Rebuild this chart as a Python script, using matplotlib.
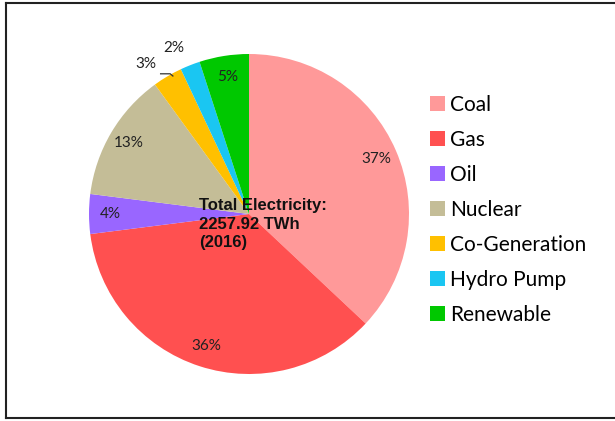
import matplotlib
matplotlib.use('Agg')
import matplotlib.pyplot as plt
import numpy as np
from matplotlib.lines import Line2D
from matplotlib.patches import Patch

# --- data ---
sources = ['Coal', 'Gas', 'Oil', 'Nuclear', 'Co-Generation', 'Hydro Pump', 'Renewable']
shares = [37, 36, 4, 13, 3, 2, 5]
colors = ['#FF9999', '#FF5050', '#9966FF', '#C4BD97', '#FFC000', '#1AC6F2', '#00C800']
center_text = 'Total Electricity:\n2257.92 TWh\n(2016)'

W, H = 615, 421
fig = plt.figure(figsize=(W / 100, H / 100), dpi=100)

# pie centre at (249, 214) px, radius 160 px
cx, cy, r = 249, 214, 160
ax = fig.add_axes([(cx - r) / W, (H - cy - r) / H, 2 * r / W, 2 * r / H])
wedges, _ = ax.pie(shares, colors=colors, startangle=90, counterclock=False,
                   wedgeprops=dict(linewidth=0))
ax.set_xlim(-1, 1)
ax.set_ylim(-1, 1)
ax.set_aspect('equal')
ax.axis('off')

lbl_font = dict(family='Lato', fontsize=11, color='#222222')
for w, val in zip(wedges, shares):
    mid = np.deg2rad((w.theta1 + w.theta2) / 2)
    if val >= 4:
        d = 0.87
        ax.text(d * np.cos(mid), d * np.sin(mid), f'{val}%', ha='center', va='center', **lbl_font)
    else:
        # small slices: label outside
        shift = 0.07 if val == 3 else 0.05
        d = 1.14
        tx, ty = d * np.cos(mid + shift), d * np.sin(mid + shift)
        ax.text(tx, ty, f'{val}%', ha='center', va='center', clip_on=False, **lbl_font)
        if val == 3:
            ex, ey = 0.985 * np.cos(mid - 0.03), 0.985 * np.sin(mid - 0.03)
            ax.add_line(Line2D([tx + 0.095, tx + 0.155, ex], [ty - 0.062, ty - 0.062, ey],
                               color='#333333', lw=0.9, clip_on=False))

ax.text(-0.31, -0.065, center_text, ha='left', va='center', fontsize=12,
        fontweight='bold', family='Liberation Sans', color='#111111', linespacing=1.3)

# legend
handles = [Patch(facecolor=c, edgecolor='none') for c in colors]
fig.legend(handles, sources, loc='upper left', bbox_to_anchor=(411 / W, 1 - 76 / H),
           frameon=False, prop=dict(family='Lato', size=15), handlelength=0.72,
           handleheight=0.72, handletextpad=0.25, labelspacing=0.72)

# frame lines (no right edge)
fig.add_artist(Line2D([6 / W, 1], [1 - 3 / H, 1 - 3 / H], color='#222222', lw=1.5))
fig.add_artist(Line2D([6 / W, 1], [1 - 418 / H, 1 - 418 / H], color='#222222', lw=1.5))
fig.add_artist(Line2D([6 / W, 6 / W], [1 - 3 / H, 1 - 418 / H], color='#222222', lw=1.5))

fig.savefig('out.png', dpi=100)
